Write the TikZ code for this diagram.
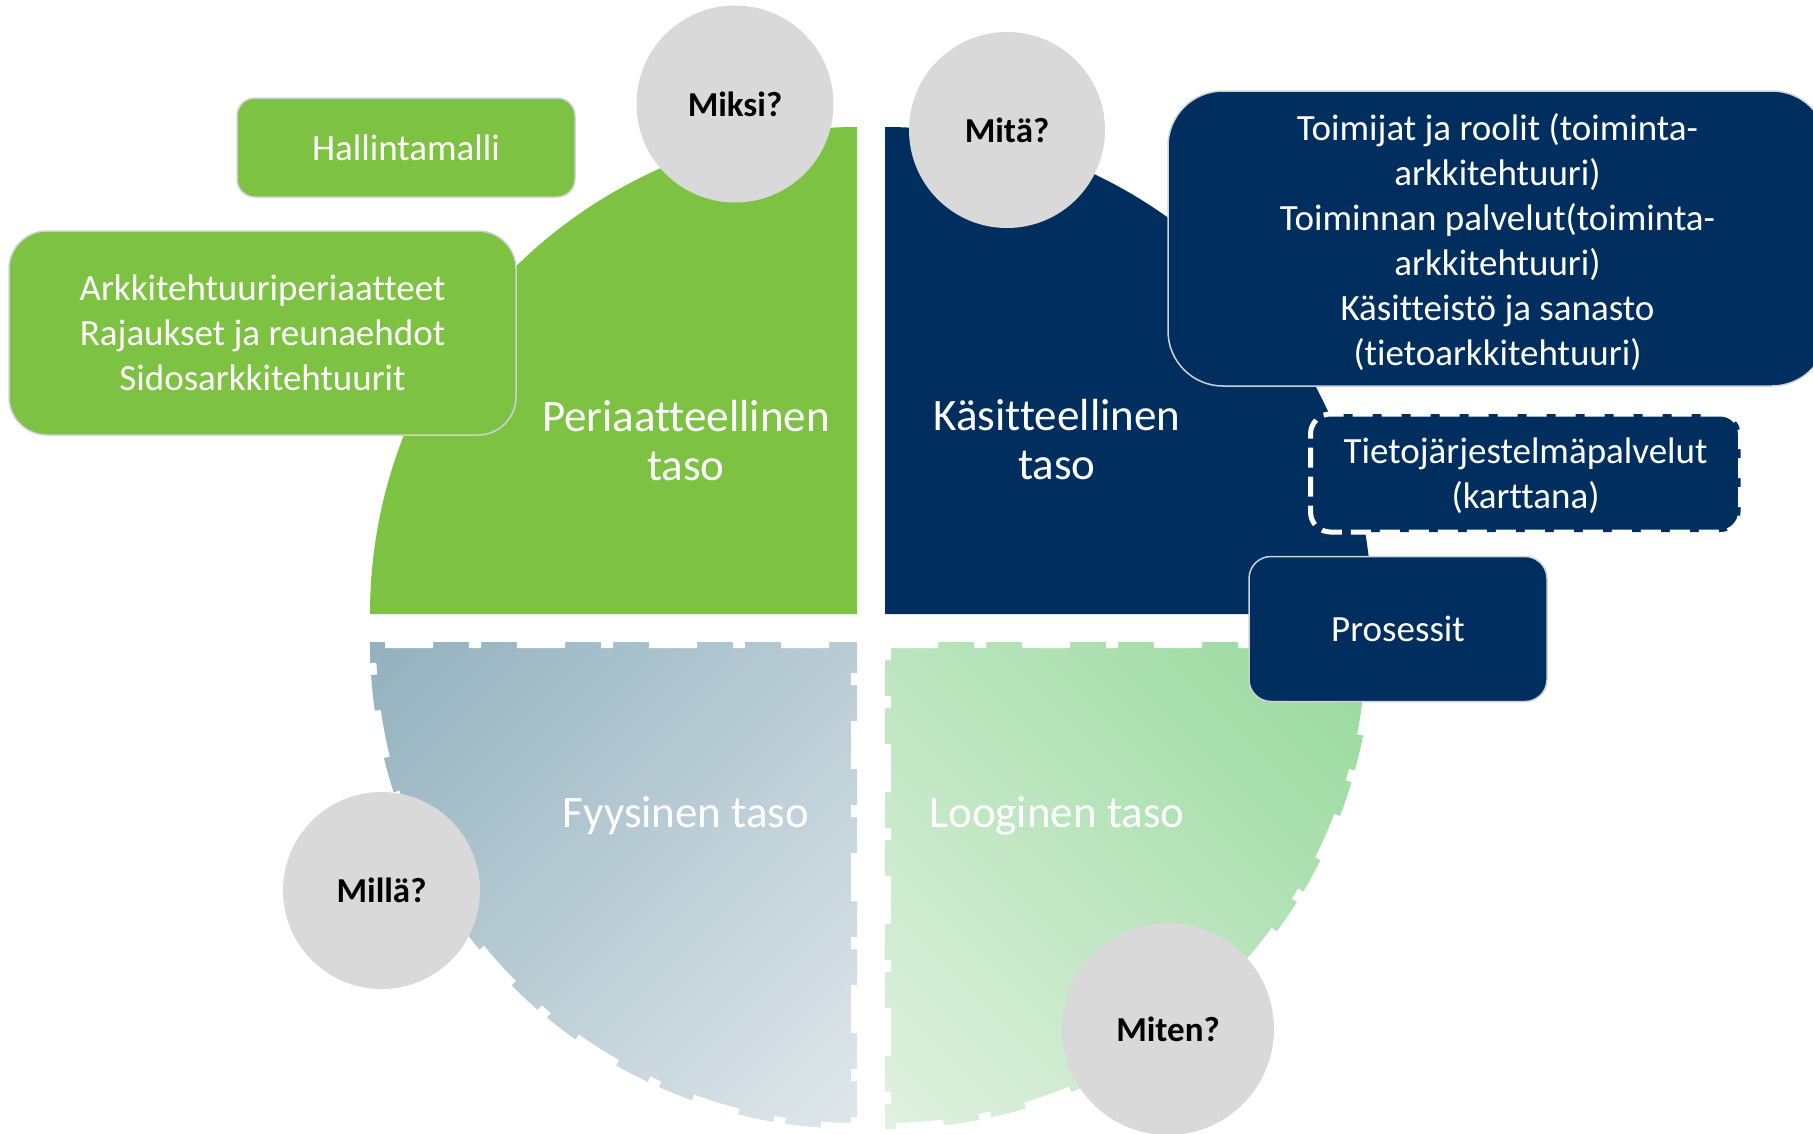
\documentclass[tikz,border=0pt]{standalone}
\usepackage{fontspec}
\setmainfont{Carlito}[Ligatures={NoCommon,NoContextual}]
\usetikzlibrary{shadings}
\definecolor{qgreen}{RGB}{125,194,66}
\definecolor{qnavy}{RGB}{0,47,95}
\definecolor{circgray}{RGB}{217,217,217}
\definecolor{boxborder}{RGB}{205,210,215}
\definecolor{fyTL}{RGB}{146,177,190}
\definecolor{fyBR}{RGB}{224,231,235}
\definecolor{loTR}{RGB}{150,217,155}
\definecolor{loBL}{RGB}{225,241,225}
\begin{document}
\begin{tikzpicture}[x=1pt,y=1pt,
  quadlabel/.style={text=white, font=\fontsize{45}{49}\selectfont, align=center, inner sep=0pt},
  qcircle/.style={circle, fill=circgray, inner sep=0pt, font=\bfseries\fontsize{35}{40}\selectfont, text=black},
  boxtext/.style={font=\fontsize{37}{45}\selectfont, text=white, align=center, inner sep=0pt},
  greenbox/.style={boxtext, draw=boxborder, line width=1.5pt, fill=qgreen},
  navybox/.style={boxtext, draw=boxborder, line width=1.5pt, fill=qnavy},
  dashbox/.style={draw=white, line width=5pt, dash pattern=on 20pt off 9pt, fill=qnavy},
  dashedge/.style={draw=white, line width=12pt, dash pattern=on 48pt off 36pt on 12pt off 36pt}
]
\useasboundingbox (0,0) rectangle (1813,-1133);
\clip (0,0) rectangle (1813,-1133);

% quadrants
\fill[qgreen] (857,-614) -- (370,-614) arc[start angle=180, end angle=90, radius=487pt] -- cycle;
\fill[qnavy] (885,-614) -- (885,-127) arc[start angle=90, end angle=0, radius=487pt] -- cycle;
\shadedraw[upper left=fyTL, lower right=fyBR, upper right=fyTL!50!fyBR, lower left=fyTL!50!fyBR,
  dashedge, dash phase=104pt]
  (857,-642) -- (370,-642) arc[start angle=180, end angle=270, radius=487pt] -- cycle;
\shadedraw[upper right=loTR, lower left=loBL, upper left=loTR!50!loBL, lower right=loTR!50!loBL,
  dashedge, dash phase=127pt]
  (885,-642) -- (1372,-642) arc[start angle=0, end angle=-90, radius=487pt] -- cycle;

% quadrant labels
\node[quadlabel] (peri) at (686,-441) {Periaatteellinen\\taso};
\node[quadlabel] (kasi) at (1057,-440) {Käsitteellinen\\taso};
\node[quadlabel] (fyys) at (686,-815.5) {Fyysinen taso};
\node[quadlabel] (loog) at (1057,-815.5) {Looginen taso};

% question circles
\node[qcircle, minimum size=197pt] (miksi) at (735,-104) {Miksi?};
\node[qcircle, minimum size=196pt] (mita) at (1007,-130) {Mitä?};
\node[qcircle, minimum size=197pt] (milla) at (381.5,-890.5) {Millä?};
\node[qcircle, minimum size=212pt] (miten) at (1168,-1029) {Miten?};

% boxes
\node[greenbox, rounded corners=18pt, minimum width=338pt, minimum height=99pt] (hallinta) at (406,-147.5) {Hallintamalli};
\node[greenbox, rounded corners=38pt, minimum width=507pt, minimum height=204pt] (periaatteet) at (262.5,-333)
  {Arkkitehtuuriperiaatteet\\Rajaukset ja reunaehdot\\Sidosarkkitehtuurit};
\node[navybox, rounded corners=55pt, minimum width=659pt, minimum height=295pt] (toimijat) at (1497.5,-238.5) {};
\node[boxtext] (toimijattxt) at ([yshift=-4pt]toimijat.center)
  {Toimijat ja roolit (toiminta-\\arkkitehtuuri)\\Toiminnan palvelut(toiminta-\\arkkitehtuuri)\\Käsitteistö ja sanasto\\(tietoarkkitehtuuri)};
\node[dashbox, rounded corners=20pt, minimum width=430pt, minimum height=118pt] (tieto) at (1525.5,-473) {};
\node[boxtext] (tietotxt) at ([yshift=-2.5pt]tieto.center) {Tietojärjestelmäpalvelut\\(karttana)};
\node[navybox, rounded corners=22pt, minimum width=298pt, minimum height=145pt] (prosessit) at (1398,-629) {Prosessit};
\end{tikzpicture}
\end{document}
